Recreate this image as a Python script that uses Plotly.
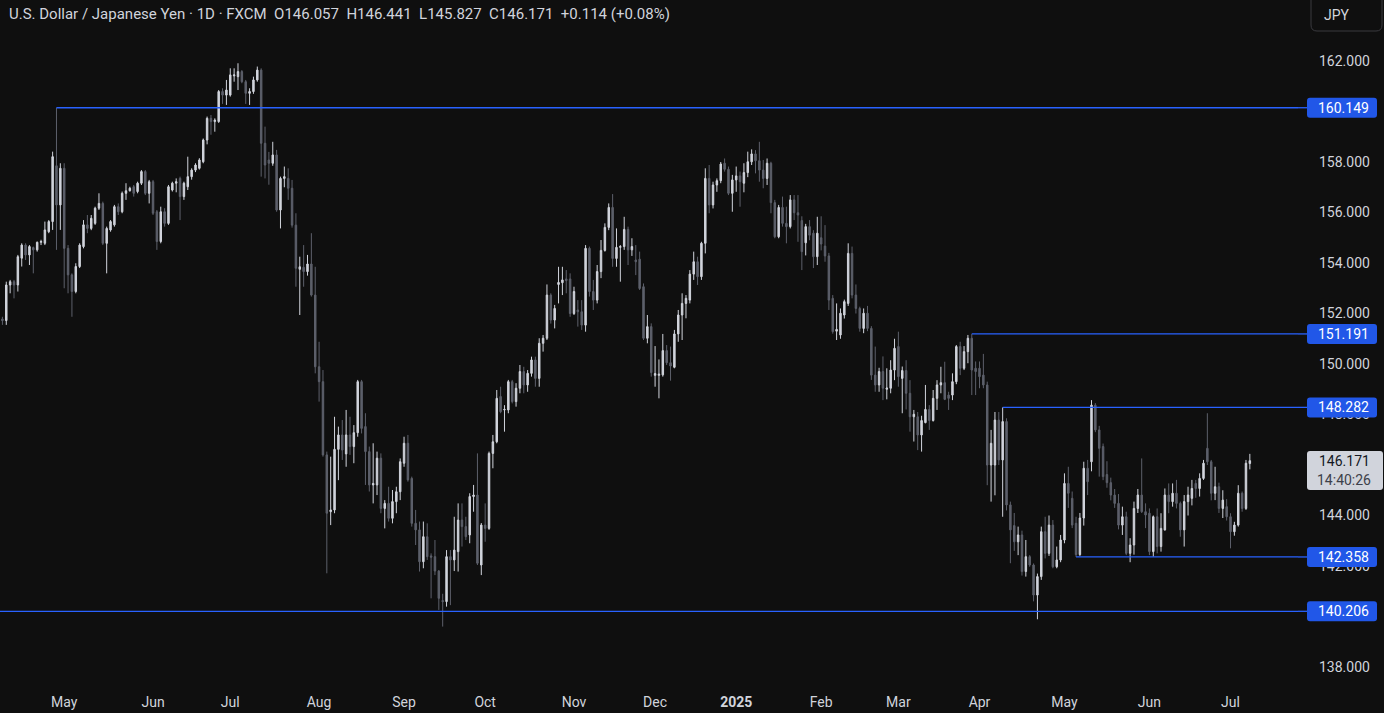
import pandas as pd
import plotly.graph_objects as go

# ---------------- data ----------------
holidays = ["2024-12-25", "2025-01-01"]
dates = [d.strftime("%Y-%m-%d") for d in pd.bdate_range("2024-04-09", "2025-07-08")]
dates = [d for d in dates if d not in holidays]

open_ = [
    # Apr 2024
    151.78, 151.72, 153.13, 153.26, 153.13, 154.19, 154.71, 154.32, 154.61, 154.52, 154.82, 154.78, 155.24, 155.64, 157.85, 156.30,
    # May 2024
    157.75, 154.58, 153.53, 152.87, 153.86, 154.65, 155.51, 155.37, 155.57, 156.17, 156.36, 154.78, 155.31, 155.51, 156.23, 156.03, 156.76, 156.86, 157.02, 156.83, 157.16, 157.62, 156.76,
    # Jun 2024
    157.22, 156.03, 154.85, 156.03, 155.57, 156.89, 157.16, 157.35, 156.63, 157.02, 157.42, 157.68, 157.75, 158.01, 158.87, 159.73, 159.60, 159.60, 160.79, 160.65,
    # Jul 2024
    160.65, 161.41, 161.38, 161.58, 161.18, 160.72, 160.79, 161.25, 161.64, 158.74, 158.08, 157.95, 158.28, 156.10, 157.35, 157.35, 156.96, 155.50, 153.75, 153.83, 153.66, 153.96, 152.73,
    # Aug 2024
    149.89, 149.30, 146.40, 144.15, 144.22, 146.62, 147.19, 146.44, 147.19, 146.73, 147.28, 149.30, 147.52, 146.53, 145.21, 145.21, 146.27, 144.28, 144.48, 143.89, 144.55, 144.94,
    # Sep 2024
    146.07, 146.86, 145.47, 143.69, 143.43, 142.17, 143.16, 142.40, 142.37, 141.80, 140.63, 140.59, 142.37, 142.24, 142.57, 143.82, 143.56, 143.23, 144.75, 144.81, 142.04,
    # Oct 2024
    143.62, 143.49, 146.46, 146.92, 148.71, 148.18, 148.18, 149.30, 148.51, 149.04, 149.70, 149.17, 149.63, 150.16, 149.43, 150.82, 151.02, 152.73, 151.74, 153.15, 153.22, 153.37, 153.37,
    # Nov 2024
    152.00, 152.14, 152.07, 151.54, 154.58, 152.87, 152.53, 153.66, 154.50, 155.41, 156.20, 154.18, 154.62, 154.65, 155.33, 154.52, 154.12, 154.15, 153.06, 151.02, 151.48,
    # Dec 2024
    149.55, 149.55, 149.57, 150.53, 150.05, 149.87, 151.19, 151.94, 152.40, 152.53, 153.56, 154.05, 153.46, 154.78, 157.35, 156.30, 157.09, 157.26, 157.95, 157.71, 156.76,
    # Jan 2025
    157.29, 157.45, 157.16, 157.58, 158.01, 158.32, 158.05, 157.68, 157.35, 157.95, 156.39, 155.04, 156.20, 155.57, 155.44, 156.50, 155.99, 155.68, 154.80, 155.44, 155.18, 154.25,
    # Feb 2025
    155.00, 154.67, 154.28, 152.60, 151.30, 151.15, 151.94, 152.40, 154.38, 152.73, 152.20, 151.41, 152.01, 151.41, 149.56, 149.17, 149.70, 149.00, 149.04, 149.76,
    # Mar 2025
    150.69, 149.43, 149.74, 148.84, 147.91, 147.91, 147.19, 147.68, 148.20, 147.76, 148.64, 149.17, 149.26, 148.77, 148.77, 149.30, 150.69, 149.83, 150.49, 151.02, 149.83,
    # Apr 2025
    149.83, 149.56, 149.17, 146.00, 146.00, 147.78, 146.20, 147.72, 144.42, 143.60, 142.96, 143.23, 141.78, 142.37, 142.04, 140.85, 141.58, 143.36, 142.50, 143.62, 141.97, 142.24,
    # May 2025
    143.03, 145.27, 144.68, 143.69, 142.45, 143.90, 145.87, 146.13, 148.37, 147.39, 146.73, 145.62, 145.30, 144.81, 144.48, 143.62, 143.95, 142.50, 142.83, 144.28, 144.81, 144.15,
    # Jun 2025
    144.09, 142.57, 143.95, 142.77, 143.43, 144.81, 144.55, 144.88, 144.48, 143.43, 144.55, 144.68, 145.27, 145.07, 145.47, 146.66, 146.13, 144.88, 145.14, 144.28, 144.35,
    # Jul 2025
    143.95, 143.36, 143.62, 144.88, 144.28, 146.057,
]

high = [
    151.87, 153.26, 153.33, 153.33, 154.32, 154.78, 154.78, 154.71, 154.65, 154.85, 154.92, 155.64, 155.70, 158.41, 160.149, 157.95,
    157.95, 154.71, 153.59, 153.99, 154.78, 155.70, 155.90, 155.90, 156.23, 156.76, 156.43, 155.44, 155.70, 156.30, 156.36, 156.83, 157.16, 157.02, 157.09, 157.22, 157.68, 157.68, 157.29,
    157.29, 156.10, 156.23, 156.17, 157.09, 157.22, 157.35, 157.42, 157.22, 158.21, 157.75, 157.95, 158.15, 158.93, 159.80, 159.86, 159.73, 160.85, 160.92, 161.25,
    161.71, 161.71, 161.91, 161.64, 161.25, 160.92, 161.38, 161.78, 161.71, 159.40, 158.40, 158.80, 158.48, 157.42, 157.82, 157.75, 157.29, 155.97, 154.25, 154.71, 154.32, 155.18, 153.85,
    150.88, 149.76, 146.53, 146.33, 147.91, 147.52, 147.78, 148.18, 147.91, 147.58, 149.37, 149.37, 148.05, 146.73, 146.86, 146.53, 146.46, 144.61, 145.14, 145.01, 145.14, 146.26,
    147.12, 147.19, 145.54, 144.22, 143.76, 143.76, 143.69, 142.50, 143.03, 141.84, 140.90, 142.63, 142.63, 143.95, 144.48, 144.48, 143.95, 144.88, 145.21, 146.46, 143.70,
    144.48, 146.53, 147.19, 148.97, 149.10, 148.37, 149.37, 149.37, 149.24, 149.96, 149.89, 149.76, 150.29, 150.29, 151.02, 151.15, 153.15, 152.80, 152.34, 153.85, 153.85, 153.72, 153.59,
    153.06, 152.53, 152.53, 154.71, 154.65, 153.33, 153.92, 154.91, 155.57, 156.36, 156.73, 155.37, 154.71, 155.83, 155.44, 154.98, 154.71, 154.45, 153.19, 151.94, 151.61,
    150.71, 150.18, 151.19, 150.75, 150.69, 151.35, 152.14, 152.80, 152.73, 153.72, 154.45, 154.25, 154.84, 157.75, 157.88, 157.22, 157.35, 158.00, 158.14, 157.82, 157.49,
    157.82, 157.62, 157.95, 158.41, 158.50, 158.47, 158.80, 158.08, 158.14, 158.01, 156.50, 156.30, 156.63, 156.23, 156.69, 156.69, 156.69, 155.85, 155.55, 155.70, 155.30, 155.83,
    155.85, 155.50, 154.40, 152.73, 152.40, 152.20, 152.55, 154.78, 154.65, 153.15, 152.27, 152.20, 152.30, 151.50, 150.69, 149.85, 150.30, 149.83, 150.15, 151.00,
    151.28, 149.90, 150.15, 149.36, 148.18, 148.10, 147.95, 149.17, 148.37, 148.97, 149.36, 149.89, 150.09, 148.90, 149.63, 150.75, 150.88, 150.71, 151.15, 151.191, 150.10,
    150.10, 150.40, 149.30, 147.39, 148.10, 148.10, 148.282, 147.85, 144.55, 144.10, 143.56, 143.40, 143.03, 142.43, 142.10, 141.70, 143.56, 143.95, 144.00, 143.82, 142.77, 143.23,
    145.67, 145.93, 144.95, 143.95, 144.10, 146.13, 146.20, 148.57, 148.45, 147.55, 146.85, 146.15, 145.50, 145.05, 144.85, 144.35, 144.15, 143.10, 144.55, 145.05, 146.26, 144.48,
    144.28, 144.00, 144.28, 144.09, 145.07, 145.27, 145.27, 145.41, 144.55, 144.81, 145.14, 145.41, 145.41, 145.67, 146.20, 148.05, 146.20, 145.93, 145.30, 145.00, 144.65,
    144.09, 143.75, 145.20, 144.95, 146.20, 146.441,
]

low = [
    151.55, 151.55, 152.80, 152.60, 152.87, 153.86, 154.12, 153.92, 153.59, 154.45, 154.71, 154.71, 155.18, 155.31, 154.52, 155.31,
    153.00, 152.80, 151.87, 152.80, 153.80, 154.58, 155.18, 155.30, 155.51, 156.10, 154.71, 153.59, 155.24, 155.44, 155.90, 155.97, 156.50, 156.83, 156.63, 156.76, 157.09, 156.69, 156.36,
    155.90, 154.52, 154.78, 155.44, 155.51, 156.83, 156.80, 155.70, 156.50, 156.89, 157.30, 157.60, 157.70, 157.95, 158.70, 159.08, 159.20, 159.55, 160.30, 160.26,
    160.59, 161.18, 160.85, 161.12, 160.30, 160.26, 160.70, 161.18, 157.42, 157.35, 157.10, 157.85, 156.03, 155.37, 157.00, 156.50, 155.40, 153.06, 151.94, 153.06, 153.50, 152.67, 149.63,
    148.51, 146.33, 141.71, 143.62, 144.09, 145.40, 146.20, 145.93, 146.40, 146.07, 147.12, 147.25, 145.21, 144.95, 144.48, 144.81, 144.09, 143.49, 143.76, 143.69, 144.09, 144.61,
    145.93, 145.34, 143.56, 142.83, 141.78, 141.91, 142.24, 140.72, 141.64, 140.26, 139.60, 140.39, 140.45, 141.80, 141.78, 142.77, 143.03, 142.90, 144.15, 142.04, 141.64,
    142.96, 143.43, 145.87, 146.86, 148.05, 147.32, 148.05, 148.44, 148.31, 148.84, 148.84, 148.90, 149.50, 149.10, 149.10, 150.49, 150.95, 151.60, 151.41, 152.40, 152.73, 152.80, 151.87,
    151.94, 151.48, 151.35, 151.28, 152.67, 152.14, 152.40, 153.40, 154.45, 155.30, 153.85, 153.85, 153.26, 154.52, 153.92, 154.28, 153.52, 152.93, 150.95, 150.82, 149.50,
    149.10, 148.64, 149.50, 149.96, 149.34, 149.83, 150.88, 150.95, 151.81, 152.40, 153.33, 153.13, 153.33, 154.38, 155.97, 156.16, 156.82, 157.16, 157.62, 156.69, 156.03,
    156.82, 156.23, 156.80, 157.40, 157.88, 157.55, 157.22, 156.96, 157.09, 155.97, 154.98, 154.98, 155.44, 154.78, 155.37, 155.70, 154.84, 153.72, 154.30, 154.90, 153.80, 153.92,
    154.50, 154.05, 152.14, 151.20, 150.95, 151.00, 151.80, 152.30, 152.60, 152.00, 151.28, 151.22, 151.30, 149.37, 148.90, 148.90, 148.57, 148.60, 148.84, 149.36,
    149.10, 148.05, 148.20, 147.32, 146.93, 146.59, 146.53, 147.65, 147.39, 147.72, 148.18, 148.84, 148.57, 148.18, 148.57, 149.20, 149.56, 149.76, 150.03, 148.77, 148.77,
    149.04, 149.04, 145.20, 144.55, 144.80, 146.00, 143.95, 144.20, 142.11, 142.60, 142.43, 141.62, 141.58, 141.97, 140.60, 139.89, 141.45, 142.30, 142.40, 141.91, 141.91, 142.15,
    142.90, 144.30, 143.50, 142.358, 142.40, 143.60, 144.81, 145.75, 147.30, 145.54, 145.40, 145.10, 144.60, 144.30, 143.45, 143.23, 142.43, 142.15, 142.45, 144.10, 144.10, 143.50,
    142.43, 142.37, 142.50, 142.57, 143.40, 144.09, 144.35, 144.28, 143.16, 142.77, 144.00, 144.40, 144.70, 144.75, 145.41, 146.00, 144.60, 144.61, 144.10, 143.90, 143.80,
    142.70, 143.20, 143.56, 144.15, 144.22, 145.827,
]

close = [
    151.72, 153.13, 153.26, 153.13, 154.25, 154.71, 154.32, 154.65, 154.52, 154.82, 154.85, 155.31, 155.64, 158.21, 156.30, 157.75,
    154.58, 153.53, 152.87, 153.86, 154.71, 155.51, 155.37, 155.77, 156.17, 156.36, 154.78, 155.37, 155.64, 156.23, 156.03, 156.76, 156.86, 156.96, 156.76, 157.16, 157.62, 156.76, 157.22,
    155.97, 154.85, 156.03, 155.57, 157.02, 157.16, 157.22, 156.63, 157.16, 157.42, 157.68, 157.88, 158.08, 158.87, 159.73, 159.60, 159.66, 160.79, 160.65, 160.85,
    161.45, 161.45, 161.58, 161.18, 160.72, 160.79, 161.25, 161.64, 158.74, 157.88, 157.95, 158.28, 156.10, 157.35, 157.42, 156.96, 155.50, 153.79, 153.85, 153.66, 153.96, 152.73, 149.89,
    149.30, 146.40, 144.09, 144.22, 146.62, 147.19, 146.59, 147.19, 146.73, 147.28, 149.30, 147.45, 146.53, 145.21, 145.27, 146.27, 144.28, 144.48, 143.89, 144.55, 144.94, 146.13,
    146.86, 145.41, 143.69, 143.43, 142.17, 143.16, 142.37, 142.35, 141.80, 140.72, 140.59, 142.37, 142.24, 142.63, 143.82, 143.56, 143.16, 144.75, 144.81, 142.11, 143.62,
    143.49, 146.46, 146.92, 148.64, 148.11, 148.20, 149.30, 148.51, 149.04, 149.70, 149.17, 149.63, 150.16, 149.43, 150.82, 151.02, 152.73, 151.74, 152.20, 153.23, 153.33, 153.30, 152.00,
    152.87, 152.07, 151.54, 154.58, 152.87, 152.53, 153.66, 154.50, 155.41, 156.20, 154.18, 154.62, 154.65, 155.33, 154.52, 154.65, 154.05, 152.99, 151.02, 151.48, 149.66,
    149.62, 149.60, 150.53, 150.05, 149.92, 151.19, 151.94, 152.40, 152.60, 153.56, 154.05, 153.46, 154.78, 157.35, 156.30, 157.09, 157.26, 157.92, 157.71, 156.76, 157.29,
    157.45, 157.22, 157.58, 158.01, 158.32, 158.05, 157.68, 157.35, 157.95, 156.39, 155.04, 156.20, 155.57, 155.44, 156.50, 155.99, 155.90, 154.45, 155.44, 155.10, 154.25, 155.18,
    154.75, 154.28, 152.53, 151.28, 151.37, 152.01, 152.47, 154.38, 152.73, 152.20, 151.41, 152.01, 151.41, 149.56, 149.17, 149.70, 149.04, 149.05, 149.76, 150.62,
    149.50, 149.74, 148.84, 147.91, 148.01, 147.19, 147.76, 148.20, 147.76, 148.64, 149.17, 149.26, 148.60, 148.64, 149.30, 150.69, 149.83, 150.49, 151.02, 149.76, 149.70,
    149.50, 149.17, 146.00, 146.86, 147.78, 146.20, 147.72, 144.42, 143.43, 142.96, 143.23, 141.78, 142.37, 142.04, 140.85, 141.58, 143.36, 142.50, 143.62, 141.97, 142.24, 143.03,
    145.27, 144.88, 143.62, 142.45, 143.90, 145.87, 145.34, 148.37, 147.39, 146.66, 145.54, 145.30, 144.81, 144.48, 143.62, 143.95, 142.50, 142.83, 144.28, 144.81, 144.15, 144.02,
    142.57, 143.95, 142.77, 143.49, 144.81, 144.55, 144.88, 144.48, 143.43, 144.55, 144.81, 145.07, 145.07, 145.47, 146.07, 146.13, 144.88, 145.14, 144.28, 144.61, 143.95,
    143.36, 143.62, 144.88, 144.28, 146.07, 146.171,
]

month_ticks = ["2024-05-01", "2024-06-03", "2024-07-01", "2024-08-01", "2024-09-02", "2024-10-01",
               "2024-11-01", "2024-12-02", "2025-01-02", "2025-02-03", "2025-03-03", "2025-04-01",
               "2025-05-01", "2025-06-02", "2025-07-01"]
month_labels = ["May", "Jun", "Jul", "Aug", "Sep", "Oct", "Nov", "Dec", "<b>2025</b>",
                "Feb", "Mar", "Apr", "May", "Jun", "Jul"]
# price-scale ticks that are not hidden behind a level label
price_ticks = [138, 142, 144, 148, 150, 152, 154, 156, 158, 162]

level_values = [160.149, 151.191, 148.282, 142.358, 140.206]
level_starts = ["2024-04-29", "2025-03-28", "2025-04-09", "2025-05-06", None]

title_text = ("U.S. Dollar / Japanese Yen \u00b7 1D \u00b7 FXCM\u00a0\u00a0O146.057\u00a0\u00a0H146.441"
              "\u00a0\u00a0L145.827\u00a0\u00a0C146.171\u00a0\u00a0+0.114 (+0.08%)")
last_price = 146.171
countdown = "14:40:26"

assert len(dates) == len(open_) == len(high) == len(low) == len(close)

# ---------------- style ----------------
W, H = 1384, 713
PLOT_R = 1298      # px, right edge of plot area
PLOT_B = 684       # px, bottom of plot area
PX_PER_YEN = 25.25
BG = "#0f0f0f"
TXT = "#d1d4dc"
UP = "#d1d4dc"
DOWN = "#5d606b"
BLUE = "#2962ff"
BLUE_BOX = "#2157e8"
FONT = "Roboto"


def px_x(px):
    return px / PLOT_R


def px_y(py):
    return (PLOT_B - py) / PLOT_B


def price_at(py):
    return 162 - (py - 61) / PX_PER_YEN


def rounded_box(x0, x1, y0, y1, rx, ry):
    """SVG path of a rounded rectangle (coordinates in the shape's refs)."""
    return (f"M {x0 + rx},{y0} L {x1 - rx},{y0} Q {x1},{y0} {x1},{y0 + ry} "
            f"L {x1},{y1 - ry} Q {x1},{y1} {x1 - rx},{y1} L {x0 + rx},{y1} "
            f"Q {x0},{y1} {x0},{y1 - ry} L {x0},{y0 + ry} Q {x0},{y0} {x0 + rx},{y0} Z")


fig = go.Figure(go.Candlestick(
    x=dates, open=open_, high=high, low=low, close=close,
    increasing=dict(line=dict(color=UP, width=1), fillcolor=UP),
    decreasing=dict(line=dict(color=DOWN, width=1), fillcolor=DOWN),
    whiskerwidth=0, hoverinfo="skip", showlegend=False,
))

shapes = []
annotations = []
half = 10 / PX_PER_YEN  # half label height in price units
r_y = 3 / PX_PER_YEN
r_x = 3 / PLOT_R
for v, s in zip(level_values, level_starts):
    x0 = dates.index(s) if s else -5
    shapes.append(dict(type="line", xref="x", yref="y", x0=x0, x1=400, y0=v, y1=v,
                       line=dict(color=BLUE, width=1.3), layer="above"))
    shapes.append(dict(type="line", xref="paper", yref="y", x0=1.0, x1=px_x(1308), y0=v, y1=v,
                       line=dict(color=BLUE, width=1.3), layer="above"))
    shapes.append(dict(type="path", xref="paper", yref="y",
                       path=rounded_box(px_x(1307), px_x(1377), v - half, v + half, r_x, r_y),
                       fillcolor=BLUE_BOX, line=dict(width=0), layer="above"))
    annotations.append(dict(xref="paper", yref="y", x=px_x(1343), y=v, text=f"{v:.3f}",
                            showarrow=False, xanchor="center", yanchor="middle",
                            font=dict(family=FONT, size=14, color="#ffffff")))

# current price label
shapes.append(dict(type="path", xref="paper", yref="y",
                   path=rounded_box(px_x(1307), px_x(1383), price_at(490), price_at(451), r_x, r_y),
                   fillcolor="#d1d4dc", line=dict(width=0), layer="above"))
annotations.append(dict(xref="paper", yref="y", x=px_x(1344), y=price_at(461), text=f"{last_price:.3f}",
                        showarrow=False, xanchor="center", yanchor="middle",
                        font=dict(family=FONT, size=14, color="#131722")))
annotations.append(dict(xref="paper", yref="y", x=px_x(1344), y=price_at(480), text=countdown,
                        showarrow=False, xanchor="center", yanchor="middle",
                        font=dict(family=FONT, size=14, color="#3d404a")))

# JPY button
shapes.append(dict(type="path", xref="paper", yref="paper",
                   path=rounded_box(px_x(1311), px_x(1382), px_y(31), px_y(-6), 6 / PLOT_R, 6 / PLOT_B),
                   line=dict(color="#3a3a3f", width=1), fillcolor="rgba(0,0,0,0)", layer="above"))
annotations.append(dict(xref="paper", yref="paper", x=px_x(1322), y=px_y(15), text="JPY",
                        showarrow=False, xanchor="left", yanchor="middle",
                        font=dict(family=FONT, size=14, color=TXT)))

# title / legend line
annotations.append(dict(xref="paper", yref="paper", x=px_x(7), y=px_y(14), text=title_text,
                        showarrow=False, xanchor="left", yanchor="middle",
                        font=dict(family=FONT, size=15, color=TXT)))

c_left = -2.41 / 3.862
c_right = (PLOT_R - 2.41) / 3.862

fig.update_layout(
    width=W, height=H,
    margin=dict(l=0, r=W - PLOT_R, t=0, b=H - PLOT_B),
    paper_bgcolor=BG, plot_bgcolor=BG,
    font=dict(family=FONT, color=TXT, size=14),
    boxgap=0.45,
    xaxis=dict(type="category", range=[c_left, c_right], rangeslider=dict(visible=False),
               tickmode="array", tickvals=month_ticks, ticktext=month_labels,
               showgrid=False, zeroline=False, showline=False, ticks="",
               tickfont=dict(family=FONT, size=14, color=TXT), ticklabelstandoff=8),
    yaxis=dict(side="right", range=[price_at(PLOT_B), price_at(0)],
               tickmode="array", tickvals=price_ticks, ticktext=[f"{t:.3f}" for t in price_ticks],
               showgrid=False, zeroline=False, showline=False, ticks="",
               tickfont=dict(family=FONT, size=14, color=TXT), ticklabelstandoff=20),
    shapes=shapes, annotations=annotations,
    hovermode=False,
)

fig.write_html("out.html", config=dict(displayModeBar=False))

# remove the default page margin so the chart fills the window exactly
with open("out.html", "r", encoding="utf-8") as f:
    html = f.read()
html = html.replace("<head>", "<head><style>html,body{margin:0;padding:0;background:#0f0f0f;overflow:hidden;}</style>", 1)
with open("out.html", "w", encoding="utf-8") as f:
    f.write(html)
